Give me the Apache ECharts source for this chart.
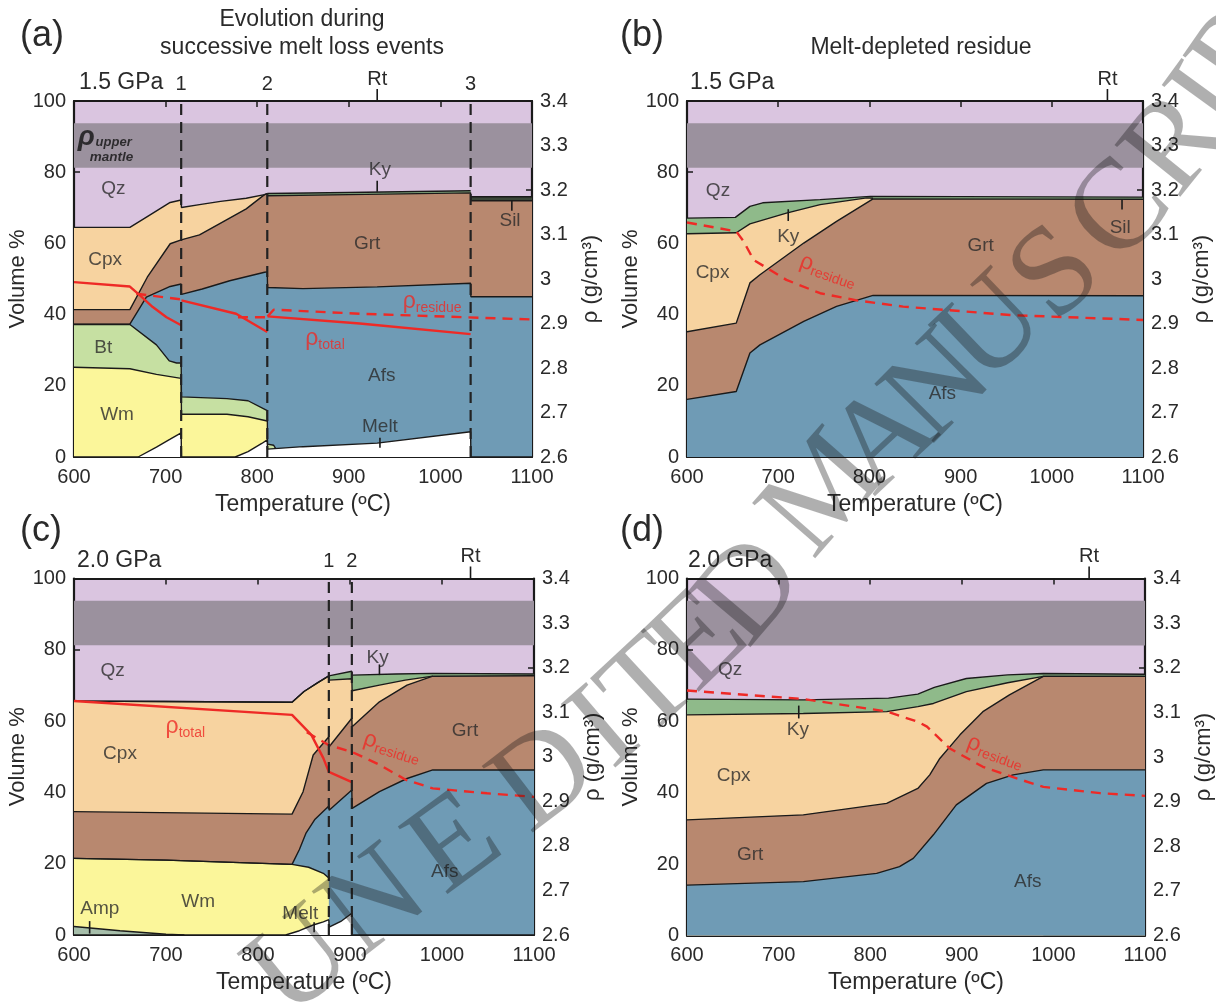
<!DOCTYPE html>
<html><head><meta charset="utf-8">
<script src="https://cdn.jsdelivr.net/npm/echarts@6/dist/echarts.min.js"></script>
<style>html,body{margin:0;padding:0;background:#fff}#c{width:1216px;height:1002px}</style>
</head><body><div id="c"></div>
<script>
// ---------------- DATA ----------------
// Temperature axis ticks
const tempTicks = [600, 700, 800, 900, 1000, 1100];
// (a) 1.5 GPa, successive melt loss events  [T (°C), volume %]
const aEvents = [717, 811, 1033];
const aKyTop = [[811,74.0],[900,74.3],[1033,74.8]];
const aSilTop = [[1033,73.1],[1100,73.1]];
const aCpxTop = [[600,64.5],[661,64.5],[680,67.5],[705,71.5],[717,72.2],[717.3,70.1],[737,70.9],[760,71.8],[788,72.7],[808,73.7],[811,74.0]];
const aGrtTop = [[600,41.4],[661,41.4],[680,50.5],[705,59.9],[717,61.0],[717.3,60.5],[737,62.4],[765,66.4],[788,69.7],[808,73.7],[811,74.0],[811.3,73.4],[900,73.7],[1033,74.2],[1033.3,72.0],[1100,72.0]];
const aAfsTop = [[600,37.3],[661,37.3],[679,44.9],[705,47.9],[717,48.6],[717.3,45.7],[740,47.2],[770,49.5],[808,51.9],[811,52.0],[811.3,47.6],[850,47.3],[931,47.8],[1033,48.8],[1033.3,45.0],[1100,45.0]];
const aBtTop = [[600,37.2],[661,37.2],[690,31.5],[704,27.0],[712,26.4],[717,26.4],[717.3,16.9],[767,16.4],[790,15.8],[811,13.0],[811.3,3.6],[818,3.3],[820,2.4]];
const aWmTop = [[600,25.2],[661,24.8],[690,23.2],[717,22.1],[717.3,12.0],[767,12.0],[790,11.3],[811,10.1]];
const aMeltTop = [[600,0],[670,0],[690,2.8],[705,5.0],[717,6.8],[717.3,0],[776,0],[790,1.5],[805,3.8],[811,4.8],[811.3,2.2],[850,2.9],[931,3.9],[1033,7.1],[1033.3,0],[1100,0]];
// density (g/cm3)
const aTotal0 = [[600,2.993],[661,2.983],[672,2.963],[686,2.937],[701,2.914],[717,2.896]];
const aTotal1 = [[717.3,2.952],[777,2.922],[811,2.881]];
const aTotal2 = [[811.3,2.916],[912,2.900],[1033,2.876]];
const aResid0 = [[668,2.967],[717,2.954]];
const aResid1 = [[779,2.914],[811,2.914]];
const aResid2 = [[811.3,2.916],[818,2.931],[912,2.922],[1100,2.909]];

// (b) 1.5 GPa, melt-depleted residue
const bKyTop = [[600,67.1],[653,67.3],[669,70.4],[683,71.4],[746,72.3],[801,73.2],[1100,73.0]];
const bCpxTop = [[600,62.7],[654,63.0],[669,65.5],[709,68.5],[746,70.9],[797,72.8],[804,72.7]];
const bGrtTop = [[600,35.2],[654,37.6],[669,48.9],[680,51.2],[728,60.1],[764,66.2],[804,72.5],[1100,72.4]];
const bAfsTop = [[600,16.2],[654,18.4],[669,29.2],[680,31.5],[728,38.1],[764,42.3],[804,45.4],[1100,45.3]];
const bResid = [[600,3.127],[654,3.107],[662,3.085],[673,3.043],[709,2.998],[746,2.968],[786,2.952],[837,2.938],[954,2.919],[1100,2.908]];

// (c) 2.0 GPa, successive melt loss events
const cEvents = [877, 902];
const cKyTop = [[600,65.6],[700,65.5],[837,65.3],[850,68.3],[865,70.8],[877,72.7],[877.3,72.9],[902,74.0],[902.3,72.9],[950,73.2],[990,73.4],[1100,73.2]];
const cCpxTop = [[600,65.6],[700,65.5],[837,65.3],[850,68.3],[865,70.8],[877,72.7],[877.3,71.5],[902,71.9],[902.3,68.5],[932,70.1],[960,71.5],[990,72.6]];
const cGrtTop = [[600,34.6],[837,33.9],[849,40.2],[860,50.5],[877,55.6],[877.3,52.8],[902,60.8],[902.3,58.4],[932,65.4],[962,70.1],[990,72.6],[1100,72.7]];
const cAfsTop = [[600,21.5],[700,21.0],[837,19.8],[845,24.0],[852,28.5],[862,32.5],[877,36.2],[877.3,35.0],[902,40.7],[902.3,35.5],[932,40.2],[962,43.9],[990,46.3],[1100,46.3]];
const cWmTop = [[600,21.5],[700,21.0],[837,19.8],[855,19.0],[871,17.3],[877,16.0]];
const cAmpTop = [[600,2.4],[650,1.2],[700,0.2],[720,0]];
const cMeltTop = [[600,0],[830,0],[845,1.2],[860,2.8],[871,3.7],[877,4.3],[877.3,2.2],[890,3.8],[902,6.1],[902.3,0],[1100,0]];
const cTotal = [[600,3.125],[837,3.094],[858,3.049],[871,2.997],[877,2.966],[902,2.943]];
const cResid = [[853,3.055],[877,3.026],[902,3.011],[932,2.982],[961,2.948],[990,2.929],[1049,2.918],[1100,2.910]];

// (d) 2.0 GPa, melt-depleted residue
const dKyTop = [[600,66.2],[727,66.0],[820,66.5],[852,67.6],[870,69.5],[905,72.0],[950,73.0],[989,73.4],[1100,73.2]];
const dCpxTop = [[600,61.8],[727,62.2],[818,62.7],[852,64.1],[869,65.0],[905,68.3],[950,70.8],[989,72.6]];
const dGrtTop = [[600,32.4],[727,33.8],[818,37.0],[852,41.2],[865,45.0],[876,49.6],[898,56.2],[923,62.7],[952,67.4],[989,72.6],[1100,72.6]];
const dAfsTop = [[600,14.1],[727,15.1],[807,17.4],[832,19.3],[847,21.6],[869,28.2],[894,36.6],[927,42.6],[956,45.0],[989,46.4],[1100,46.4]];
const dResid = [[600,3.149],[727,3.130],[818,3.102],[852,3.079],[862,3.068],[887,3.019],[923,2.978],[960,2.952],[989,2.933],[1051,2.919],[1100,2.913]];

// upper-mantle density band (g/cm3)
const mantleBand = [3.25, 3.35];

// labels [text, T, volume%]
const aLabels = [['Qz',643,75.4],['Cpx',634,55.5],['Bt',632,30.8],['Wm',647,12],['Grt',920,60],['Afs',936,22.7],['Melt',934,8.6],['Ky',934,80.6],['Sil',1076,66.4],['{r|ρ}{s|residue}',991,43.6],['{r|ρ}{s|total}',874,33.2]];
const bLabels = [['Qz',634,74.8],['Cpx',628,51.8],['Ky',711,62],['Grt',922,59.4],['Afs',880,17.8],['Sil',1075,64.4],['{r|ρ}{s|residue}',755,52.5]];
const cLabels = [['Qz',642,74],['Cpx',650,50.8],['Amp',628,7.3],['Wm',735,9.3],['Melt',846,6.0],['Ky',930,77.9],['Grt',1025,57.2],['Afs',1003,17.7],['{r|ρ}{s|total}',721,58.4],['{r|ρ}{s|residue}',946,52.8]];
const dLabels = [['Qz',647,74.4],['Ky',721,57.6],['Cpx',651,44.7],['Grt',669,22.5],['Afs',972,15],['{r|ρ}{s|residue}',937,51.6]];
// leader ticks [T, from %, to %]
const aLeaders = [[931,74.5,77.6],[1078,72,69.2],[934,2.6,5.4]];
const bLeaders = [[711,69.6,66.3],[1077,72.4,69.5]];
const cLeaders = [[617,0.4,3.9],[932,72.9,75.9],[861,0.8,3.6]];
const dLeaders = [[722,64.4,60.8]];
// top markers [T, label, tick]
const aTop = [[717,'1',0],[811,'2',0],[1033,'3',0],[931,'Rt',1]];
const bTop = [[1061,'Rt',1]];
const cTop = [[877,'1',0],[902,'2',0],[1031,'Rt',1]];
const dTop = [[1039,'Rt',1]];

// ---------------- STYLE ----------------
const FONT = 'Liberation Sans, Arial, sans-serif';
const COL = {qz:'#dac5e0', band:'#9b919e', ky:'#8fba8a', sil:'#3a4638', cpx:'#f7d3a0', grt:'#b8886f', afs:'#6f9bb5', bt:'#c6e0a2', wm:'#fbf69a', amp:'#a6beaa', melt:'#ffffff', red:'#ee2a26', ink:'#1a1a1a', txt:'#2a2a2a'};
const grids = [
  {left:74, top:101, width:458, height:356},
  {left:687, top:101, width:456, height:356},
  {left:74, top:578.5, width:460, height:356.5},
  {left:687, top:578.5, width:458, height:357}
];
const xAxes = [], yAxes = [], series = [];
grids.forEach((g, i) => {
  const tick = {inside:true, length:6, lineStyle:{color:COL.ink, width:1.5}};
  const line = {show:true, onZero:false, lineStyle:{color:COL.ink, width:2.2}};
  xAxes.push({gridIndex:i, type:'value', min:tempTicks[0], max:tempTicks[tempTicks.length-1], interval:100, position:'bottom',
    axisLine:line, axisTick:tick, splitLine:{show:false},
    axisLabel:{fontSize:20, color:COL.txt, margin:10, fontFamily:FONT, formatter:v => String(v)},
    name:'Temperature (ºC)', nameLocation:'middle', nameGap:36, nameTextStyle:{fontSize:23, color:COL.txt, fontFamily:FONT}});
  xAxes.push({gridIndex:i, type:'value', min:600, max:1100, interval:100, position:'top',
    axisLine:line, axisTick:tick, splitLine:{show:false}, axisLabel:{show:false}});
  yAxes.push({gridIndex:i, type:'value', min:0, max:100, interval:20, position:'left',
    axisLine:line, axisTick:tick, splitLine:{show:false},
    axisLabel:{fontSize:20, color:COL.txt, margin:8, fontFamily:FONT},
    name:'Volume %', nameLocation:'middle', nameRotate:90, nameGap:43, nameTextStyle:{fontSize:22, color:COL.txt, fontFamily:FONT}});
  yAxes.push({gridIndex:i, type:'value', min:2.6, max:3.4, interval:0.1, position:'right',
    axisLine:line, axisTick:tick, splitLine:{show:false},
    axisLabel:{fontSize:20, color:COL.txt, margin:8, fontFamily:FONT, formatter:v => String(Math.round(v*10)/10)},
    name:'ρ (g/cm³)', nameLocation:'middle', nameRotate:90, nameGap:48, nameTextStyle:{fontSize:22, color:COL.txt, fontFamily:FONT}});
  g.show = true; g.backgroundColor = COL.qz; g.borderWidth = 0;
});

function band(gi, data, color){
  series.push({type:'line', xAxisIndex:gi*2, yAxisIndex:gi*2, data:data, symbol:'none', silent:true,
    lineStyle:{color:COL.ink, width:1.4}, areaStyle:{color:color, opacity:1}, z:2, animation:false});
}
function rho(gi, data, dashed){
  series.push({type:'line', xAxisIndex:gi*2, yAxisIndex:gi*2+1, data:data, symbol:'none', silent:true,
    lineStyle:{color:COL.red, width:2.4, type: dashed ? [10,7] : 'solid'}, z:3, animation:false});
}
function mantle(gi){
  series.push({type:'line', xAxisIndex:gi*2, yAxisIndex:gi*2+1, data:[[600,mantleBand[0]]], symbol:'none', silent:true,
    lineStyle:{width:0}, z:1, animation:false,
    markArea:{silent:true, itemStyle:{color:COL.band, opacity:1}, data:[[{yAxis:mantleBand[0]},{yAxis:mantleBand[1]}]]}});
}
function labels(gi, arr, rotations){
  series.push({type:'scatter', xAxisIndex:gi*2, yAxisIndex:gi*2, symbolSize:1, itemStyle:{color:'rgba(0,0,0,0)'}, silent:true, z:6, animation:false,
    data: arr.map((l, k) => ({value:[l[1], l[2]], label:{formatter:l[0], rotate:(rotations && rotations[k]) || 0}})),
    label:{show:true, position:'inside', fontSize:19, color:COL.txt, fontFamily:FONT,
      rich:{r:{fontSize:23, color:COL.red, fontFamily:FONT}, s:{fontSize:14, color:COL.red, fontFamily:FONT, padding:[13,0,0,0]}}}});
}
function annot(gi, events, top, leaders){
  series.push({type:'custom', xAxisIndex:gi*2, yAxisIndex:gi*2, z:8, silent:true, animation:false, clip:false,
    data: events.map(t => [t, 0]),
    renderItem:(p, api) => {
      const a = api.coord([api.value(0), 0]), b = api.coord([api.value(0), 100]);
      return {type:'line', shape:{x1:a[0], y1:a[1], x2:b[0], y2:b[1]}, style:{stroke:'#222', lineWidth:2.2, lineDash:[11,7]}};
    }});
  series.push({type:'custom', xAxisIndex:gi*2, yAxisIndex:gi*2, z:8, silent:true, animation:false, clip:false,
    data: top.map(m => [m[0], 100]),
    renderItem:(p, api) => {
      const m = top[p.dataIndex]; const c = api.coord([api.value(0), 100]);
      const ch = [{type:'text', x:c[0], y:c[1] - (m[2] ? 22 : 17), style:{text:m[1], fontSize:20, fontFamily:FONT, fill:COL.txt, align:'center', verticalAlign:'middle'}}];
      if (m[2]) ch.push({type:'line', shape:{x1:c[0], y1:c[1]-12, x2:c[0], y2:c[1]}, style:{stroke:COL.ink, lineWidth:1.6}});
      return {type:'group', children:ch};
    }});
  series.push({type:'custom', xAxisIndex:gi*2, yAxisIndex:gi*2, z:7, silent:true, animation:false, clip:false,
    data: leaders.map(l => [l[0], l[1], l[2]]),
    renderItem:(p, api) => {
      const a = api.coord([api.value(0), api.value(1)]), b = api.coord([api.value(0), api.value(2)]);
      return {type:'line', shape:{x1:a[0], y1:a[1], x2:b[0], y2:b[1]}, style:{stroke:COL.ink, lineWidth:1.6}};
    }});
}

// panel a
mantle(0);
band(0, aKyTop, COL.ky); band(0, aSilTop, COL.sil); band(0, aCpxTop, COL.cpx); band(0, aGrtTop, COL.grt);
band(0, aAfsTop, COL.afs); band(0, aBtTop, COL.bt); band(0, aWmTop, COL.wm); band(0, aMeltTop, COL.melt);
rho(0, aTotal0, false); rho(0, aTotal1, false); rho(0, aTotal2, false);
rho(0, aResid0, true); rho(0, aResid1, true); rho(0, aResid2, true);
labels(0, aLabels);
annot(0, aEvents, aTop, aLeaders);
// upper mantle label
series.push({type:'scatter', xAxisIndex:0, yAxisIndex:0, symbolSize:1, itemStyle:{color:'rgba(0,0,0,0)'}, silent:true, z:6, animation:false,
  data:[{value:[604,87.6]}],
  label:{show:true, position:'inside', align:'left', formatter:'{p|ρ}{u|upper}\n{m|mantle}',
    rich:{p:{fontSize:28, fontWeight:'bold', fontStyle:'italic', color:'#111', fontFamily:FONT, lineHeight:24},
      u:{fontSize:13, fontWeight:'bold', fontStyle:'italic', color:'#111', fontFamily:FONT, padding:[10,0,0,1], lineHeight:24},
      m:{fontSize:13.5, fontWeight:'bold', fontStyle:'italic', color:'#111', fontFamily:FONT, padding:[0,0,0,12], lineHeight:15}}}});
// panel b
mantle(1);
band(1, bKyTop, COL.ky); band(1, bCpxTop, COL.cpx); band(1, bGrtTop, COL.grt); band(1, bAfsTop, COL.afs);
rho(1, bResid, true);
labels(1, bLabels, [0,0,0,0,0,0,-19]);
annot(1, [], bTop, bLeaders);
// panel c
mantle(2);
band(2, cKyTop, COL.ky); band(2, cCpxTop, COL.cpx); band(2, cGrtTop, COL.grt); band(2, cAfsTop, COL.afs);
band(2, cWmTop, COL.wm); band(2, cAmpTop, COL.amp); band(2, cMeltTop, COL.melt);
rho(2, cTotal, false); rho(2, cResid, true);
labels(2, cLabels, [0,0,0,0,0,0,0,0,0,-17]);
annot(2, cEvents, cTop, cLeaders);
// panel d
mantle(3);
band(3, dKyTop, COL.ky); band(3, dCpxTop, COL.cpx); band(3, dGrtTop, COL.grt); band(3, dAfsTop, COL.afs);
rho(3, dResid, true);
labels(3, dLabels, [0,0,0,0,0,-20]);
annot(3, [], dTop, dLeaders);

// ---------------- TEXT / WATERMARK ----------------
const txt = (x, y, text, size, extra) => Object.assign({type:'text', x:x, y:y, silent:true, z:20,
  style:Object.assign({text:text, fontSize:size, fontFamily:FONT, fill:COL.txt, align:'left', verticalAlign:'middle'}, extra || {})});
const graphic = [
  txt(20, 36, '(a)', 36), txt(620, 36, '(b)', 36), txt(20, 531, '(c)', 36), txt(620, 531, '(d)', 36),
  txt(302, 20, 'Evolution during', 23, {align:'center'}), txt(302, 48, 'successive melt loss events', 23, {align:'center'}),
  txt(921, 48, 'Melt-depleted residue', 23, {align:'center'}),
  txt(79, 83, '1.5 GPa', 23), txt(690, 83, '1.5 GPa', 23), txt(77, 561, '2.0 GPa', 23), txt(688, 561, '2.0 GPa', 23)
];
const wm = [['U',302,965],['N',376,905],['E',456,846],['D',546,780],['I',606,731],['T',651,690],['E',701,643],['D',752,593],
  ['M',825,496],['A',885,441],['N',940,389],['U',994,331],['S',1058,276],['C',1122,213],['R',1178,146],['I',1212,101],['P',1242,58]];
wm.forEach((w, k) => {
  const pr = wm[Math.max(0, k-1)], nx = wm[Math.min(wm.length-1, k+1)];
  const ang = Math.atan2(-(nx[2]-pr[2]), nx[1]-pr[1]);
  graphic.push({type:'text', x:w[1], y:w[2], rotation:ang, silent:true, z:30,
    style:{text:w[0], fontSize:128, fontFamily:'Liberation Serif, DejaVu Serif, serif', fill:'rgba(20,20,20,0.34)', align:'center', verticalAlign:'middle'}});
});

const chart = echarts.init(document.getElementById('c'), null, {renderer:'canvas'});
chart.setOption({animation:false, backgroundColor:'#fff', grid:grids, xAxis:xAxes, yAxis:yAxes, series:series, graphic:graphic});
</script></body></html>
